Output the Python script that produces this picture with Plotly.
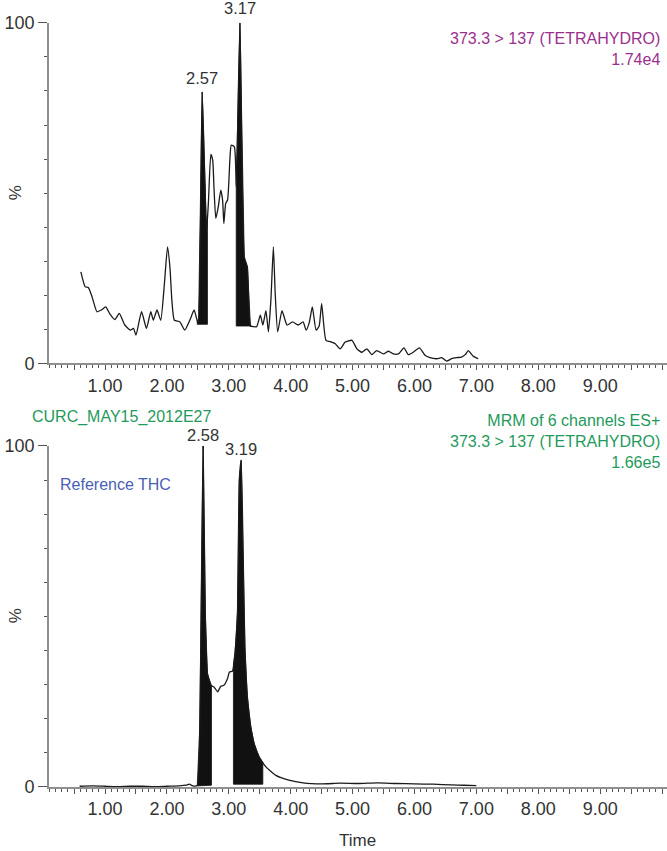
import numpy as np
import plotly.graph_objects as go

# ---------------- data ----------------
TOP_TIME = [0.61, 0.68, 0.73, 0.79, 0.87, 0.94, 1.01, 1.08, 1.16, 1.23, 1.32, 1.41, 1.46, 1.50,
            1.59, 1.67, 1.74, 1.78, 1.84, 1.90, 1.96, 2.01, 2.05, 2.08, 2.12, 2.21, 2.29, 2.37,
            2.44, 2.48, 2.51, 2.57, 2.64, 2.67, 2.71, 2.74, 2.76, 2.79, 2.83, 2.87, 2.90, 2.92,
            2.95, 2.98, 3.02, 3.04, 3.09, 3.12, 3.18, 3.25, 3.30, 3.35, 3.40, 3.45, 3.51, 3.55,
            3.60, 3.64, 3.68, 3.72, 3.75, 3.79, 3.86, 3.94, 4.03, 4.12, 4.20, 4.25, 4.30, 4.35,
            4.41, 4.46, 4.50, 4.57, 4.64, 4.72, 4.80, 4.88, 4.99, 5.07, 5.15, 5.23, 5.31, 5.39,
            5.50, 5.58, 5.66, 5.74, 5.83, 5.90, 5.98, 6.08, 6.17, 6.25, 6.36, 6.44, 6.52, 6.60,
            6.68, 6.76, 6.82, 6.87, 6.95, 7.03]
TOP_PCT = [26.9, 22.5, 22.3, 19.6, 15.2, 15.7, 16.6, 14.5, 12.9, 14.7, 11.3, 9.8, 10.3, 8.3,
           15.2, 10.3, 15.2, 12.7, 15.7, 12.7, 23.5, 34.2, 28.0, 18.6, 12.7, 12.2, 9.8, 12.7,
           15.7, 13.2, 11.7, 79.7, 39.0, 47.0, 61.4, 59.7, 51.9, 42.6, 46.0, 50.9, 47.9, 41.1,
           47.0, 48.0, 60.7, 64.1, 63.6, 51.9, 100.0, 31.2, 28.3, 11.0, 10.8, 10.8, 14.2, 11.3,
           15.5, 9.3, 18.6, 34.2, 20.5, 9.3, 15.5, 11.3, 12.2, 11.3, 12.2, 9.8, 12.0, 16.6,
           9.8, 11.0, 17.6, 6.8, 6.4, 5.8, 4.3, 6.3, 6.8, 4.3, 3.3, 4.3, 2.6, 3.8,
           2.8, 3.6, 2.8, 2.8, 4.6, 2.6, 3.3, 4.6, 2.4, 1.7, 1.4, 1.7, 0.7, 1.4,
           1.7, 1.9, 2.6, 3.8, 2.1, 1.4]

BOT_TIME = [0.59, 0.80, 1.00, 1.20, 1.40, 1.60, 1.80, 2.00, 2.20, 2.31, 2.36, 2.42, 2.49,
            2.53, 2.585, 2.62, 2.655, 2.71, 2.76, 2.82, 2.87, 2.92, 2.98, 3.01, 3.06, 3.10,
            3.14, 3.17, 3.20, 3.23, 3.26, 3.30, 3.355, 3.41, 3.49, 3.60, 3.76, 3.97, 4.20,
            4.50, 4.80, 5.10, 5.40, 5.70, 6.00, 6.30, 6.60, 6.80, 7.00]
BOT_PCT = [0.2, 0.3, 0.2, 0.1, 0.2, 0.2, 0.1, 0.2, 0.3, 0.5, 0.8, 0.3, 0.4,
           16.6, 100.0, 50.8, 33.2, 29.8, 29.3, 27.9, 29.5, 29.8, 31.8, 33.7, 34.0, 39.2,
           50.9, 90.0, 95.8, 70.4, 41.0, 26.4, 17.6, 12.7, 8.8, 5.9, 3.4, 2.0, 1.2,
           0.9, 1.1, 1.0, 1.2, 1.0, 0.9, 0.8, 0.6, 0.5, 0.4]

# integrated peak windows: (start time, end time, baseline at start %, baseline at end %)
TOP_PEAKS = [(2.49, 2.655, 11.5, 11.5), (3.12, 3.37, 11.0, 11.0)]
BOT_PEAKS = [(2.49, 2.72, 0.3, 0.5), (3.075, 3.55, 0.8, 0.8)]

TOP_PEAK_LABELS = [(2.57, 79.7, "2.57"), (3.18, 100.0, "3.17")]
BOT_PEAK_LABELS = [(2.585, 100.0, "2.58"), (3.20, 95.8, "3.19")]

X_TICK_VALUES = [0.5, 1.0, 1.5, 2.0, 2.5, 3.0, 3.5, 4.0, 4.5, 5.0, 5.5, 6.0, 6.5, 7.0,
                 7.5, 8.0, 8.5, 9.0, 9.5, 10.0]
X_TICK_TEXT = ["", "1.00", "", "2.00", "", "3.00", "", "4.00", "", "5.00", "", "6.00", "",
               "7.00", "", "8.00", "", "9.00", "", ""]
Y_TICK_VALUES = [0, 100]
Y_TICK_TEXT = ["0", "100"]

TOP_CHANNEL = "373.3 > 137 (TETRAHYDRO)<br>1.74e4"
BOT_SAMPLE = "CURC_MAY15_2012E27"
BOT_CHANNEL = "MRM of 6 channels ES+<br>373.3 > 137 (TETRAHYDRO)<br>1.66e5"
BOT_NOTE = "Reference THC"

# ---------------- figure ----------------
W, H = 667, 851
ML = 49
FONT = "Liberation Sans, Arial, Helvetica, sans-serif"
AXIS_GRAY = "#8f8f8f"
TICK_COLOR = "#555555"


def py2paper(py):
    # compensate for the small vertical offset/scale of the page capture
    ys = (py - 9.84) / 0.9764
    return 1 - ys / H


def px2paper(px):
    return (px - ML) / (W - ML)


def peak_polygon(t, y, t0, t1, b0, b1):
    t = np.asarray(t, float)
    y = np.asarray(y, float)
    inside = (t > t0) & (t < t1)
    xs = np.concatenate([[t0], t[inside], [t1]])
    ys = np.concatenate([[np.interp(t0, t, y)], y[inside], [np.interp(t1, t, y)]])
    px = np.concatenate([xs, [t1, t0, t0]])
    pyv = np.concatenate([ys, [b1, b0, ys[0]]])
    return px, pyv


fig = go.Figure()

for (tt, yy, peaks, xa, ya) in [(TOP_TIME, TOP_PCT, TOP_PEAKS, "x", "y"),
                                (BOT_TIME, BOT_PCT, BOT_PEAKS, "x2", "y2")]:
    for (t0, t1, b0, b1) in peaks:
        pxv, pyv = peak_polygon(tt, yy, t0, t1, b0, b1)
        fig.add_trace(go.Scatter(x=pxv, y=pyv, mode="lines", fill="toself",
                                 fillcolor="#111111", line=dict(color="#111111", width=0.8),
                                 xaxis=xa, yaxis=ya, showlegend=False, hoverinfo="skip"))
    fig.add_trace(go.Scatter(x=tt, y=yy, mode="lines",
                             line=dict(color="#1a1a1a", width=1.3, shape="spline", smoothing=0.5),
                             xaxis=xa, yaxis=ya, showlegend=False))

x_range = [0.095, 10.08]
xaxis_common = dict(range=x_range, showgrid=False, zeroline=False, showline=True,
                    linecolor=AXIS_GRAY, linewidth=1.6, ticks="outside", ticklen=5,
                    tickwidth=1.2, tickcolor=TICK_COLOR, tickmode="array",
                    tickvals=X_TICK_VALUES, ticktext=X_TICK_TEXT,
                    tickfont=dict(family=FONT, size=18, color="#333333"),
                    minor=dict(dtick=0.1, tick0=0, ticks="outside", ticklen=3,
                               tickwidth=1, tickcolor=TICK_COLOR),
                    fixedrange=True)
yaxis_common = dict(range=[0, 100], showgrid=False, zeroline=False, showline=True,
                    linecolor=AXIS_GRAY, linewidth=1.6, ticks="outside", ticklen=9,
                    tickwidth=1.2, tickcolor=TICK_COLOR, tickmode="array",
                    tickvals=Y_TICK_VALUES, ticktext=Y_TICK_TEXT,
                    tickfont=dict(family=FONT, size=18, color="#333333"),
                    minor=dict(dtick=10, tick0=0, ticks="outside", ticklen=3,
                               tickwidth=1, tickcolor=TICK_COLOR),
                    fixedrange=True)

top_dom = [py2paper(363.3), py2paper(22.7)]
bot_dom = [py2paper(786.7), py2paper(445.7)]

fig.update_layout(
    width=W, height=H,
    margin=dict(l=ML, r=0, t=0, b=0),
    paper_bgcolor="white", plot_bgcolor="white",
    xaxis=dict(**xaxis_common, domain=[0, 1], anchor="y"),
    yaxis=dict(**yaxis_common, domain=top_dom, anchor="x"),
    xaxis2=dict(**xaxis_common, domain=[0, 1], anchor="y2"),
    yaxis2=dict(**yaxis_common, domain=bot_dom, anchor="x2"),
    font=dict(family=FONT),
)

annotations = []
# peak labels
for (t, v, txt), ys in zip(TOP_PEAK_LABELS, (3, 4)):
    annotations.append(dict(x=t, y=v, xref="x", yref="y", text=txt, showarrow=False,
                            yanchor="bottom", yshift=ys,
                            font=dict(family=FONT, size=16.5, color="#333333")))
for (t, v, txt) in BOT_PEAK_LABELS:
    annotations.append(dict(x=t, y=v, xref="x2", yref="y2", text=txt, showarrow=False,
                            yanchor="bottom", yshift=0,
                            font=dict(family=FONT, size=16.5, color="#333333")))

# channel texts
annotations.append(dict(x=px2paper(662), y=py2paper(28), xref="paper", yref="paper",
                        text=TOP_CHANNEL, showarrow=False, xanchor="right", yanchor="top",
                        align="right",
                        font=dict(family=FONT, size=16, color="#9b2f8e")))
annotations.append(dict(x=px2paper(30), y=py2paper(417), xref="paper", yref="paper",
                        text=BOT_SAMPLE, showarrow=False, xanchor="left", yanchor="middle",
                        font=dict(family=FONT, size=16, color="#1f9a5c")))
annotations.append(dict(x=px2paper(662), y=py2paper(410), xref="paper", yref="paper",
                        text=BOT_CHANNEL, showarrow=False, xanchor="right", yanchor="top",
                        align="right",
                        font=dict(family=FONT, size=16, color="#1f9a5c")))
annotations.append(dict(x=px2paper(58), y=py2paper(484), xref="paper", yref="paper",
                        text=BOT_NOTE, showarrow=False, xanchor="left", yanchor="middle",
                        font=dict(family=FONT, size=16, color="#4a5fb5")))
# axis titles
for cy in (193, 616):
    annotations.append(dict(x=px2paper(15), y=py2paper(cy), xref="paper", yref="paper",
                            text="%", showarrow=False, xanchor="center", yanchor="middle",
                            textangle=-90,
                            font=dict(family=FONT, size=17, color="#333333")))
annotations.append(dict(x=px2paper(357), y=py2paper(840), xref="paper", yref="paper",
                        text="Time", showarrow=False, xanchor="center", yanchor="middle",
                        font=dict(family=FONT, size=17, color="#333333")))

fig.update_layout(annotations=annotations)

fig.write_html("out.html", config={"displayModeBar": False},
               post_script="document.body.style.margin='0';document.body.style.overflow='hidden';")
